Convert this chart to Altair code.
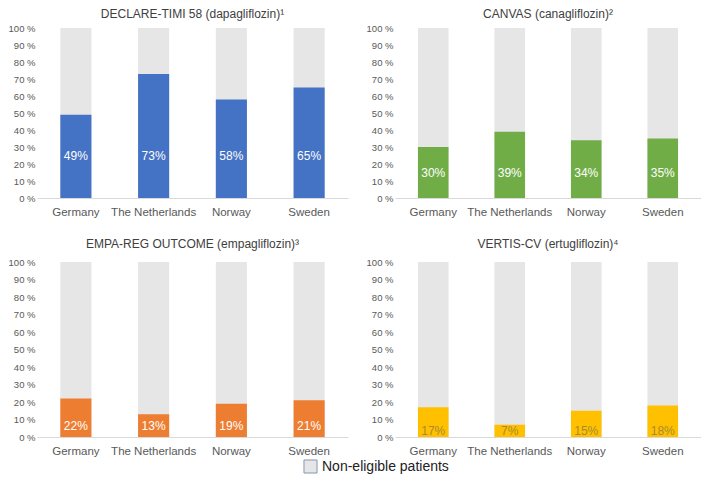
import altair as alt
import pandas as pd

countries = ["Germany", "The Netherlands", "Norway", "Sweden"]
titles = [
    "DECLARE-TIMI 58 (dapagliflozin)\u00b9",
    "CANVAS  (canagliflozin)\u00b2",
    "EMPA-REG OUTCOME (empagliflozin)\u00b3",
    "VERTIS-CV (ertugliflozin)\u2074",
]
declare = [49, 73, 58, 65]
canvas = [30, 39, 34, 35]
empa = [22, 13, 19, 21]
vertis = [17, 7, 15, 18]
bar_colors = ["#4472C4", "#70AD47", "#ED7D31", "#FFC000"]
label_colors = ["white", "white", "white", "#A88B2E"]
y_ticks = [0, 10, 20, 30, 40, 50, 60, 70, 80, 90, 100]
legend_label = "Non-eligible patients"
grey = "#E6E6E6"
axis_color = "#595959"


def panel(title, values, color, lcolor, w, h, toff):
    df = pd.DataFrame({
        "country": countries,
        "eligible": values,
        "total": [100] * len(countries),
        "group": [legend_label] * len(countries),
    })
    x = alt.X(
        "country:N", sort=countries, title=None,
        scale=alt.Scale(paddingInner=0.6, paddingOuter=0.3),
        axis=alt.Axis(labelAngle=0, labelFontSize=11.5, labelColor=axis_color,
                      domainColor="#D9D9D9", ticks=False, labelPadding=8,
                      labelFont="Liberation Sans"),
    )
    yaxis = alt.Axis(values=y_ticks, labelExpr="datum.value + ' %'",
                     domain=False, ticks=False, grid=False, labelFontSize=9.5,
                     labelOverlap=False, labelColor=axis_color, labelPadding=2,
                     labelFont="Liberation Sans")
    yscale = alt.Scale(domain=[0, 100], nice=False)
    base = alt.Chart(df)
    bg = base.mark_bar().encode(
        x=x,
        y=alt.Y("total:Q", scale=yscale, axis=yaxis, title=None),
        color=alt.Color("group:N", scale=alt.Scale(domain=[legend_label], range=[grey]),
                        legend=alt.Legend(title=None, orient="none", legendX=266, legendY=431,
                                          symbolType="square", symbolSize=170,
                                          symbolStrokeColor="#8497B0", symbolStrokeWidth=1,
                                          labelFontSize=14, labelColor="#222222",
                                          labelFont="Liberation Sans")),
    )
    fg = base.mark_bar(color=color).encode(
        x=x, y=alt.Y("eligible:Q", scale=yscale, axis=yaxis, title=None))
    txt = base.transform_joinaggregate(minv="min(eligible)").transform_calculate(
        label_y="datum.minv / 2", label="datum.eligible + '%'"
    ).mark_text(color=lcolor, fontSize=12, baseline="middle", font="Liberation Sans").encode(
        x=x, y=alt.Y("label_y:Q", scale=yscale, axis=yaxis, title=None), text="label:N"
    )
    return alt.layer(bg, fg, txt).properties(
        width=w, height=h,
        title=alt.TitleParams(title, fontSize=12, fontWeight="normal", color="#404040",
                              font="Liberation Sans", offset=toff, anchor="middle"),
    )


p1 = panel(titles[0], declare, bar_colors[0], label_colors[0], 311, 170, 2)
p2 = panel(titles[1], canvas, bar_colors[1], label_colors[1], 306, 170, 2)
p3 = panel(titles[2], empa, bar_colors[2], label_colors[2], 311, 175, 6)
p4 = panel(titles[3], vertis, bar_colors[3], label_colors[3], 306, 175, 6)

chart = alt.vconcat(
    alt.hconcat(p1, p2, spacing=18),
    alt.hconcat(p3, p4, spacing=18),
    spacing=20,
).properties(padding=0).configure_view(stroke=None).configure_axisY(labelOverlap=False)

chart.save("out.html", embed_options={"renderer": "svg", "actions": False})
